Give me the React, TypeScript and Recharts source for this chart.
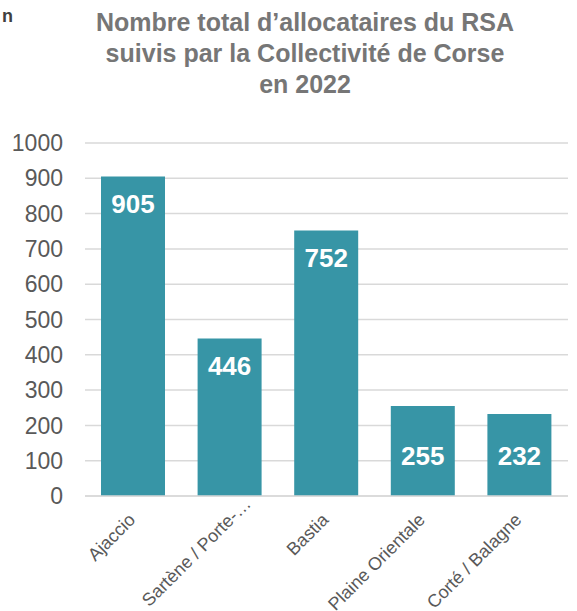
import React from 'react';
import { BarChart, Bar, XAxis, YAxis, CartesianGrid, LabelList } from 'recharts';

const categories = ['Ajaccio', 'Sartène / Porte-…', 'Bastia', 'Plaine Orientale', 'Corté / Balagne'];
const values = [905, 446, 752, 255, 232];
const yTicks = [0, 100, 200, 300, 400, 500, 600, 700, 800, 900, 1000];
const titleLines = ['Nombre total d’allocataires du RSA', 'suivis par la Collectivité de Corse', 'en 2022'];

const data = categories.map((name, i) => ({ name, value: values[i] }));

const FONT = '"Liberation Sans", Arial, sans-serif';

const XTick = (props: any) => {
  const { x, y, payload } = props;
  const truncated = String(payload.value).endsWith('…');
  const dx = truncated ? 22 : 3;
  const dy = truncated ? 1 : 17;
  return (
    <g transform={`translate(${x + dx},${y + dy})`}>
      <text
        x={0}
        y={0}
        textAnchor="end"
        transform="rotate(-45)"
        fill="#595959"
        fontSize={18}
        fontFamily={FONT}
      >
        {payload.value}
      </text>
    </g>
  );
};

const ValueLabel = (props: any) => {
  const { x, y, width, height, value } = props;
  const small = value < 300;
  const ly = small ? y + height - 40 : y + 27;
  return (
    <text
      x={x + width / 2}
      y={ly}
      textAnchor="middle"
      dominantBaseline="central"
      fill="#ffffff"
      fontSize={26}
      fontWeight="bold"
      fontFamily={FONT}
    >
      {value}
    </text>
  );
};

export default function App() {
  return (
    <div style={{ position: 'absolute', left: 0, top: 0, width: 577, height: 611, background: '#fff' }}>
      <svg width={577} height={130} style={{ position: 'absolute', left: 0, top: 0 }}>
        <text x={2} y={22} fill="#404040" fontSize={18} fontWeight="bold" fontFamily={FONT}>n</text>
        {titleLines.map((t, i) => (
          <text
            key={i}
            x={305}
            y={31 + i * 31}
            textAnchor="middle"
            fill="#767676"
            fontSize={25}
            fontWeight="bold"
            fontFamily={FONT}
          >
            {t}
          </text>
        ))}
      </svg>
      <div style={{ position: 'absolute', left: 0, top: 0 }}>
        <BarChart
          width={577}
          height={611}
          data={data}
          margin={{ top: 143, right: 9, bottom: 0, left: 0 }}
          barSize={64}
        >
          <CartesianGrid vertical={false} stroke="#d9d9d9" strokeWidth={1.5} />
          <XAxis
            dataKey="name"
            interval={0}
            height={115}
            tickLine={false}
            axisLine={{ stroke: '#d9d9d9', strokeWidth: 1.5 }}
            tick={<XTick />}
          />
          <YAxis
            width={85}
            domain={[0, 1000]}
            ticks={yTicks}
            interval={0}
            tickLine={false}
            axisLine={false}
            tickSize={0}
            tickMargin={22}
            tick={{ fill: '#595959', fontSize: 23, fontFamily: FONT }}
          />
          <Bar dataKey="value" fill="#3795a6" isAnimationActive={false}>
            <LabelList dataKey="value" content={<ValueLabel />} />
          </Bar>
        </BarChart>
      </div>
    </div>
  );
}
